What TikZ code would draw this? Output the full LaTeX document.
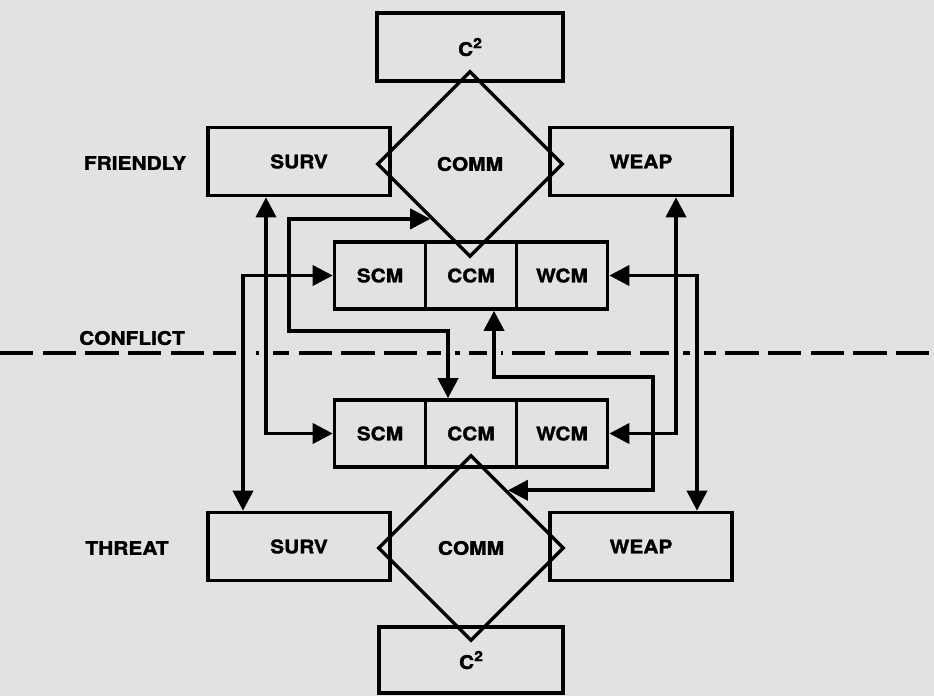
\documentclass[tikz,border=0pt]{standalone}
\usepackage{fontspec}
\setmainfont{TeX Gyre Heros}[FakeStretch=1.12, BoldFeatures={FakeBold=1.6}]
\usetikzlibrary{arrows.meta,shapes.geometric}
\definecolor{paper}{RGB}{226,226,224}
\newcommand{\csq}{C\raisebox{0.42em}{\fontsize{10.5}{11}\selectfont\bfseries 2}}
\begin{document}
\begin{tikzpicture}[x=0.75pt,y=-0.75pt,
  txt/.style={font=\fontsize{14}{16}\selectfont\bfseries},
  lbl/.style={txt, inner sep=0},
  box/.style={txt, draw, line width=2.7pt, minimum width=136.5pt, minimum height=51pt, inner sep=0},
  cell/.style={txt, draw, line width=2.7pt, minimum width=68.25pt, minimum height=50.25pt, inner sep=0},
  dia/.style={txt, draw, diamond, aspect=1, line width=2.5pt, minimum width=139.5pt, minimum height=139.5pt, inner sep=0},
  biarrow/.style={line width=2.8pt, line join=miter, {Triangle[length=15pt,width=15pt]}-{Triangle[length=15pt,width=15pt]}},
  conflict/.style={line width=2.8pt, dash pattern=on 25pt off 7pt},
]
\fill[paper] (0,0) rectangle (934,696);
\useasboundingbox (0,0) rectangle (934,696);

% friendly side
\node[box, minimum width=139.5pt] (c2F) at (470,47) {\csq};
\node[box] (survF) at (299,161.5) {SURV};
\node[box] (weapF) at (641,161.5) {WEAP};
\node[dia] (dF) at (470,164) {COMM};
\node[cell] (uSCM) at (380,275.5) {SCM};
\node[cell] (uCCM) at (471,275.5) {CCM};
\node[cell] (uWCM) at (562,275.5) {WCM};

% threat side
\node[cell] (lSCM) at (380,433.5) {SCM};
\node[cell] (lCCM) at (471,433.5) {CCM};
\node[cell] (lWCM) at (562,433.5) {WCM};
\node[dia] (dT) at (471,548) {COMM};
\node[box] (survT) at (299,546.5) {SURV};
\node[box] (weapT) at (641,546.5) {WEAP};
\node[box, minimum width=138pt, minimum height=49.5pt] (c2T) at (471,660) {\csq};

% labels
\node[lbl] (fr) at (135,163) {FRIENDLY};
\node[lbl] (cf) at (132,338) {CONFLICT};
\node[lbl] (th) at (127,548) {THREAT};

% conflict line with gaps at crossings
\draw[conflict] (0,353) -- (934,353);
\foreach \x in {243,266,448,494,676,697} \fill[paper] (\x-7,346) rectangle (\x+7,360);

% route coordinates
\coordinate (s1) at (243,0);
\coordinate (s2) at (266,0);
\coordinate (r1) at (697,0);
\coordinate (r2) at (676,0);
\coordinate (p1) at (289,331);
\coordinate (p2) at (448,331);
\coordinate (q1) at (494,377);
\coordinate (q2) at (653,377);
\path (dF.west) -- (dF.south) coordinate[pos=0.58] (dFin);
\path (dT.north) -- (dT.east) coordinate[pos=0.39] (dTin);

% connectors
\draw[biarrow] (survF.south -| s2) |- (lSCM.west);
\draw[biarrow] (uSCM.west) -| (survT.north -| s1);
\draw[biarrow] (dFin) -| (p1) -| (lCCM.north -| p2);
\draw[biarrow] (uCCM.south -| q1) |- (q2) |- (dTin);
\draw[biarrow] (uWCM.east) -| (weapT.north -| r1);
\draw[biarrow] (weapF.south -| r2) |- (lWCM.east);
\end{tikzpicture}
\end{document}
